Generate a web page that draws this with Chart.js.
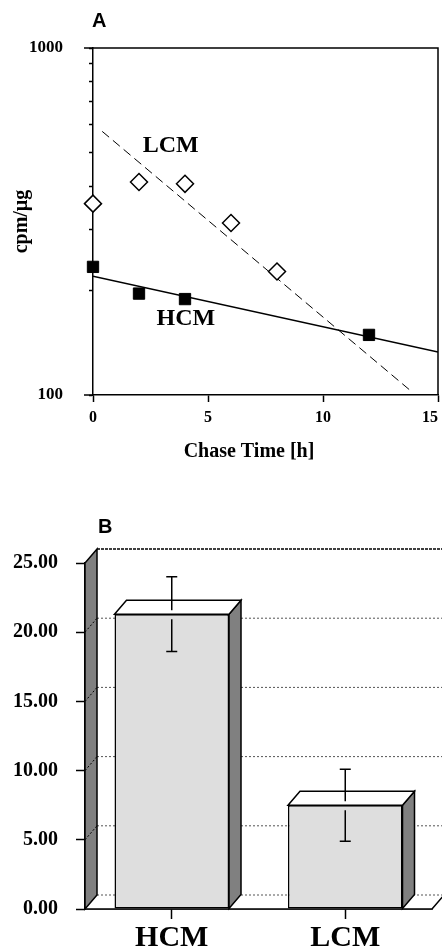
<!DOCTYPE html>
<html>
<head>
<meta charset="utf-8">
<script src="https://cdn.jsdelivr.net/npm/chart.js@4/dist/chart.umd.min.js"></script>
<style>
  body { margin: 0; background: #fff; }
  .wrap { position: relative; width: 442px; height: 951px; overflow: hidden; }
  canvas { position: absolute; left: 0; }
  #chartA { top: 0; }
  #chartB { top: 490px; }
</style>
</head>
<body>
<div class="wrap">
  <canvas id="chartA" width="442" height="490"></canvas>
  <canvas id="chartB" width="442" height="461"></canvas>
</div>
<script>
// ---- panel A: pulse-chase, log scale ----
var lcmTimes = [0, 2, 4, 6, 8];
var lcmValues = [356, 411, 406, 313, 227];
var hcmTimes = [0, 2, 4, 12];
var hcmValues = [234, 196, 189, 149];
// exponential fits (straight on log axis)
var hcmFitTimes = [0, 15];
var hcmFitValues = [220, 133];
var lcmFitTimes = [0.4, 13.8];
var lcmFitValues = [575, 103];
var xTicksA = [0, 5, 10, 15];
var yTicksA = [100, 200, 300, 400, 500, 600, 700, 800, 900, 1000];
var yLabelsA = { 100: '100', 1000: '1000' };

// ---- panel B: bars with error bars ----
var categories = ['HCM', 'LCM'];
var barValues = [21.3, 7.5];
var barErrors = [2.7, 2.6];
var yTicksB = [0, 5, 10, 15, 20, 25];

Chart.defaults.font.family = "'Liberation Serif', 'Times New Roman', serif";
Chart.defaults.font.weight = 'bold';
Chart.defaults.color = '#000';

function pts(xs, ys) {
  return xs.map(function(x, i) { return { x: x, y: ys[i] }; });
}

var panelA = {
  id: 'panelA',
  beforeDatasetsDraw: function(chart) {
    var ctx = chart.ctx, a = chart.chartArea;
    ctx.save();
    ctx.strokeStyle = '#000';
    ctx.lineWidth = 1.5;
    ctx.beginPath();
    ctx.moveTo(a.left - 9, a.top);
    ctx.lineTo(a.right, a.top);
    ctx.lineTo(a.right, a.bottom);
    ctx.moveTo(a.left - 9, a.bottom);
    ctx.lineTo(a.left, a.bottom);
    ctx.stroke();
    ctx.restore();
  },
  afterDatasetsDraw: function(chart) {
    var ctx = chart.ctx, x = chart.scales.x, y = chart.scales.y;
    ctx.save();
    ctx.fillStyle = '#000';
    ctx.textBaseline = 'alphabetic';
    ctx.font = "bold 24px 'Liberation Serif'";
    ctx.fillText('LCM', x.getPixelForValue(2.16), y.getPixelForValue(502));
    ctx.fillText('HCM', x.getPixelForValue(2.76), y.getPixelForValue(159));
    ctx.font = "bold 20px 'Liberation Serif'";
    ctx.textAlign = 'center';
    ctx.fillText('Chase Time [h]', 249, 457);
    ctx.textAlign = 'left';
    ctx.font = "bold 20px 'Liberation Sans'";
    ctx.fillText('A', 92, 27);
    ctx.restore();
  }
};

new Chart(document.getElementById('chartA'), {
  type: 'scatter',
  data: {
    datasets: [{
      label: 'LCM',
      data: pts(lcmTimes, lcmValues),
      pointStyle: 'rectRot',
      pointRadius: 8.5,
      pointBackgroundColor: '#fff',
      pointBorderColor: '#000',
      pointBorderWidth: 1.5,
      clip: false
    }, {
      label: 'HCM',
      data: pts(hcmTimes, hcmValues),
      pointStyle: 'rect',
      pointRadius: 8,
      pointBackgroundColor: '#000',
      pointBorderColor: '#000',
      pointBorderWidth: 1,
      clip: false
    }, {
      type: 'line',
      data: pts(hcmFitTimes, hcmFitValues),
      borderColor: '#000',
      borderWidth: 1.5,
      pointRadius: 0
    }, {
      type: 'line',
      data: pts(lcmFitTimes, lcmFitValues),
      borderColor: '#000',
      borderWidth: 1,
      borderDash: [9, 5],
      pointRadius: 0
    }]
  },
  options: {
    responsive: false,
    animation: false,
    layout: { autoPadding: false, padding: { top: 48, right: 4, left: 0, bottom: 0 } },
    plugins: { legend: { display: false }, tooltip: { enabled: false } },
    scales: {
      x: {
        type: 'linear',
        min: 0, max: 15,
        afterBuildTicks: function(s) { s.ticks = xTicksA.map(function(v) { return { value: v }; }); },
        afterFit: function(s) { s.height = 95; s.paddingLeft = 0; s.paddingRight = 0; },
        grid: { drawOnChartArea: false, tickLength: 7, tickColor: '#000', tickWidth: 1.5 },
        border: { color: '#000', width: 1.5 },
        ticks: {
          padding: 6,
          font: { size: 16 },
          maxRotation: 0,
          // keep the last label inside the canvas edge
          callback: function(v, i, all) { return i === all.length - 1 ? v + '\u2003' : String(v); }
        }
      },
      y: {
        type: 'logarithmic',
        min: 100, max: 1000,
        afterBuildTicks: function(s) { s.ticks = yTicksA.map(function(v) { return { value: v }; }); },
        afterFit: function(s) { s.width = 93; s.paddingTop = 0; s.paddingBottom = 0; },
        grid: { drawOnChartArea: false, tickLength: 4, tickColor: '#000', tickWidth: 1.5 },
        border: { color: '#000', width: 1.5 },
        ticks: {
          padding: 26,
          font: { size: 17 },
          callback: function(v) { return yLabelsA[v] || ''; }
        },
        title: { display: true, text: 'cpm/µg', font: { size: 20 }, padding: { top: 10 } }
      }
    }
  },
  plugins: [panelA]
});

// ---- pseudo 3D decoration for panel B ----
var DX = 12, DY = 14;
var panelB = {
  id: 'panelB',
  beforeDatasetsDraw: function(chart) {
    var ctx = chart.ctx, a = chart.chartArea, y = chart.scales.y;
    ctx.save();
    // floor
    ctx.fillStyle = '#fff';
    ctx.beginPath();
    ctx.moveTo(a.left, a.bottom);
    ctx.lineTo(a.right, a.bottom);
    ctx.lineTo(a.right + DX, a.bottom - DY);
    ctx.lineTo(a.left + DX, a.bottom - DY);
    ctx.closePath();
    ctx.fill();
    // back wall gridlines
    ctx.setLineDash([2, 2]);
    ctx.lineWidth = 1;
    ctx.strokeStyle = '#555';
    yTicksB.forEach(function(v) {
      if (v === 25) return;
      var py = y.getPixelForValue(v) - DY;
      ctx.beginPath();
      ctx.moveTo(a.left + DX, py);
      ctx.lineTo(a.right + DX + 10, py);
      ctx.stroke();
    });
    ctx.setLineDash([3, 1]);
    ctx.strokeStyle = '#000';
    ctx.lineWidth = 1.5;
    ctx.beginPath();
    ctx.moveTo(a.left + DX, a.top - DY);
    ctx.lineTo(a.right + DX + 10, a.top - DY);
    ctx.stroke();
    ctx.setLineDash([]);
    // left wall
    ctx.fillStyle = '#808080';
    ctx.beginPath();
    ctx.moveTo(a.left, a.bottom);
    ctx.lineTo(a.left, a.top);
    ctx.lineTo(a.left + DX, a.top - DY);
    ctx.lineTo(a.left + DX, a.bottom - DY);
    ctx.closePath();
    ctx.fill();
    ctx.stroke();
    ctx.setLineDash([2, 2]);
    ctx.lineWidth = 1;
    yTicksB.forEach(function(v) {
      if (v === 0 || v === 25) return;
      var py = y.getPixelForValue(v);
      ctx.beginPath();
      ctx.moveTo(a.left, py);
      ctx.lineTo(a.left + DX, py - DY);
      ctx.stroke();
    });
    ctx.setLineDash([]);
    // floor front + right edge
    ctx.lineWidth = 1.5;
    ctx.beginPath();
    ctx.moveTo(a.left, a.bottom);
    ctx.lineTo(a.right, a.bottom);
    ctx.lineTo(a.right + DX, a.bottom - DY);
    ctx.stroke();
    ctx.restore();
  },
  afterDatasetsDraw: function(chart) {
    var ctx = chart.ctx, y = chart.scales.y;
    var bars = chart.getDatasetMeta(0).data;
    ctx.save();
    ctx.strokeStyle = '#000';
    ctx.lineWidth = 1.5;
    bars.forEach(function(bar, i) {
      var l = bar.x - bar.width / 2, r = bar.x + bar.width / 2;
      // side
      ctx.fillStyle = '#808080';
      ctx.beginPath();
      ctx.moveTo(r, bar.y);
      ctx.lineTo(r + DX, bar.y - DY);
      ctx.lineTo(r + DX, bar.base - DY);
      ctx.lineTo(r, bar.base);
      ctx.closePath();
      ctx.fill();
      ctx.stroke();
      // top
      ctx.fillStyle = '#fff';
      ctx.beginPath();
      ctx.moveTo(l, bar.y);
      ctx.lineTo(l + DX, bar.y - DY);
      ctx.lineTo(r + DX, bar.y - DY);
      ctx.lineTo(r, bar.y);
      ctx.closePath();
      ctx.fill();
      ctx.stroke();
      // error bar
      var hi = y.getPixelForValue(barValues[i] + barErrors[i]);
      var lo = y.getPixelForValue(barValues[i] - barErrors[i]);
      ctx.beginPath();
      ctx.moveTo(bar.x, hi);
      ctx.lineTo(bar.x, bar.y - 4);
      ctx.moveTo(bar.x, bar.y + 5);
      ctx.lineTo(bar.x, lo);
      ctx.moveTo(bar.x - 5.5, hi);
      ctx.lineTo(bar.x + 5.5, hi);
      ctx.moveTo(bar.x - 5.5, lo);
      ctx.lineTo(bar.x + 5.5, lo);
      ctx.stroke();
    });
    ctx.fillStyle = '#000';
    ctx.font = "bold 20px 'Liberation Sans'";
    ctx.fillText('B', 98, 43);
    ctx.restore();
  }
};

new Chart(document.getElementById('chartB'), {
  type: 'bar',
  data: {
    labels: categories,
    datasets: [{
      data: barValues,
      backgroundColor: '#dedede',
      borderColor: '#000',
      borderWidth: 1.5,
      borderSkipped: false,
      barPercentage: 0.66,
      categoryPercentage: 1
    }]
  },
  options: {
    responsive: false,
    animation: false,
    layout: { autoPadding: false, padding: { top: 73, right: 10, left: 0, bottom: 0 } },
    plugins: { legend: { display: false }, tooltip: { enabled: false } },
    scales: {
      x: {
        afterFit: function(s) { s.height = 42; s.paddingLeft = 0; s.paddingRight = 0; },
        grid: { drawOnChartArea: false, offset: false, tickLength: 10, tickColor: '#000', tickWidth: 1.5 },
        border: { color: '#000', width: 1.5 },
        ticks: { padding: 1, font: { size: 30 } }
      },
      y: {
        min: 0, max: 25,
        afterBuildTicks: function(s) { s.ticks = yTicksB.map(function(v) { return { value: v }; }); },
        afterFit: function(s) { s.width = 85; s.paddingTop = 0; s.paddingBottom = 0; },
        grid: { drawOnChartArea: false, tickLength: 9, tickColor: '#000', tickWidth: 1.5 },
        border: { color: '#000', width: 1.5 },
        ticks: {
          padding: 18,
          font: { size: 20 },
          callback: function(v) { return Number(v).toFixed(2); }
        }
      }
    }
  },
  plugins: [panelB]
});
</script>
</body>
</html>
